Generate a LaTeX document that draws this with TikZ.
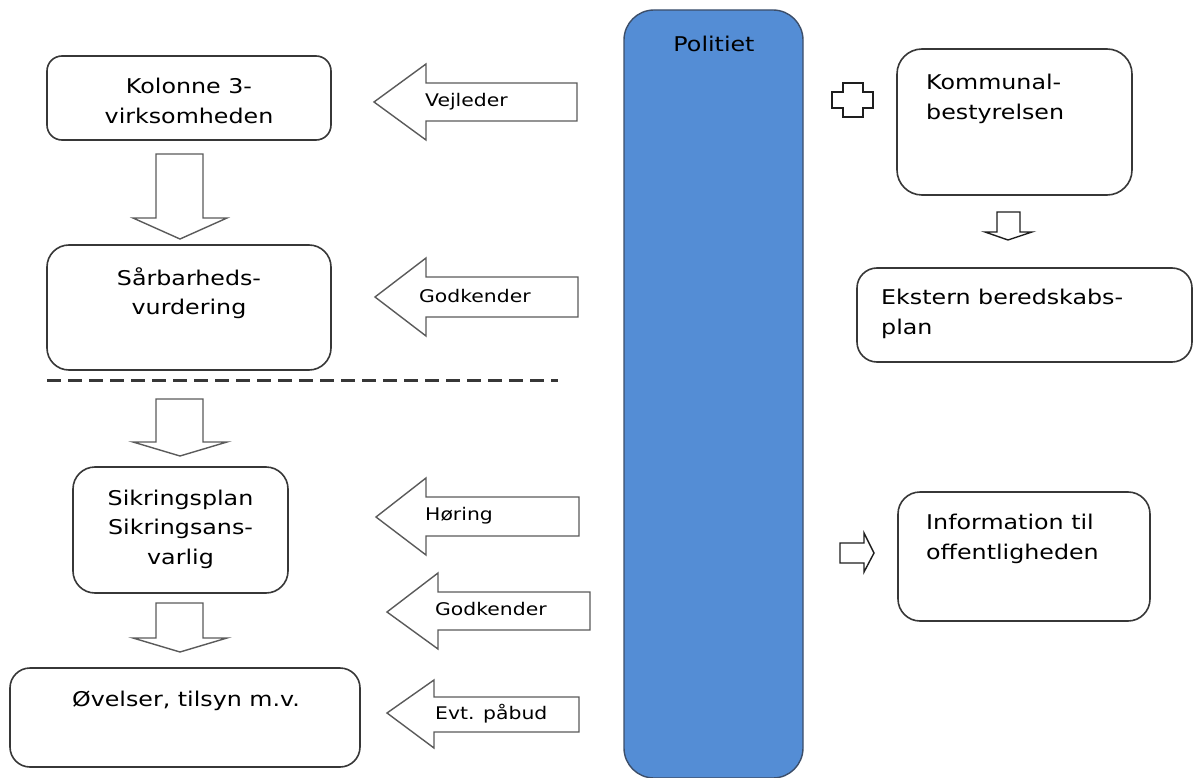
\documentclass[tikz,border=0pt]{standalone}
\usepackage{fontspec}
\setmainfont[FakeStretch=1.17]{DejaVu Sans}
\definecolor{polblue}{RGB}{84,141,213}
\definecolor{poledge}{RGB}{60,78,105}
\definecolor{boxline}{RGB}{55,55,55}
\definecolor{arrline}{RGB}{90,90,90}
\definecolor{smallline}{RGB}{30,30,30}
\begin{document}
\begin{tikzpicture}[x=1pt,y=-1pt,
  box/.style={draw=boxline, line width=1.6pt, fill=white, inner sep=0pt},
  blk/.style={draw=arrline, line width=1.4pt, fill=white, line join=miter},
  sblk/.style={draw=smallline, line width=1.4pt, fill=white, line join=miter},
  txt/.style={font=\fontsize{20.3}{29.5}\selectfont, text=black, align=center, inner sep=0pt},
  ltxt/.style={font=\fontsize{20.3}{29.5}\selectfont, text=black, align=left, inner sep=0pt, anchor=west},
  lbl/.style={font=\fontsize{17.4}{22}\selectfont, text=black, inner sep=0pt, anchor=west, text height=0.72em, text depth=0.22em}]
\useasboundingbox (0,0) rectangle (1194,778);

% Politiet bar
\node[draw=poledge, fill=polblue, line width=1.4pt, rounded corners=30pt, minimum width=179pt, minimum height=768pt, inner sep=0pt] (pol) at (713.5,394) {};
\node[txt] (poltxt) at (714,44) {Politiet};

% left boxes
\node[box, rounded corners=15pt, minimum width=284pt, minimum height=84pt] (kol) at (189,98) {};
\node[txt] (koltxt) at (189,101) {Kolonne 3-\\virksomheden};

\node[box, rounded corners=22pt, minimum width=284pt, minimum height=125pt] (sar) at (189,307.5) {};
\node[txt] (sartxt) at (189,293) {Sårbarheds-\\vurdering};

\node[box, rounded corners=22pt, minimum width=215pt, minimum height=126pt] (sik) at (180.5,530) {};
\node[txt] (siktxt) at (180.5,529) {Sikringsplan\\Sikringsans-\\varlig};

\node[box, rounded corners=20pt, minimum width=350pt, minimum height=99pt] (ove) at (185,717.5) {};
\node[txt] (ovetxt) at (186,701) {Øvelser, tilsyn m.v.};

% right boxes
\node[box, rounded corners=25pt, minimum width=235pt, minimum height=146pt] (kom) at (1014.5,122) {};
\node[ltxt] (komtxt) at (926,99) {Kommunal-\\bestyrelsen};

\node[box, rounded corners=20pt, minimum width=335pt, minimum height=94pt] (eks) at (1024.5,315) {};
\node[ltxt] (ekstxt) at (881,314) {Ekstern beredskabs-\\plan};

\node[box, rounded corners=22pt, minimum width=252pt, minimum height=129pt] (inf) at (1024,556.5) {};
\node[ltxt] (inftxt) at (926,539) {Information til\\offentligheden};

% dashed separator
\coordinate (dl) at (47,380);
\coordinate (dr) at (558,380);
\draw[draw=boxline, line width=3pt, dash pattern=on 13.5pt off 7.5pt] (dl) -- (dr);

% down block arrows (left column)
\draw[blk] (156,154) -- (203,154) -- (203,218) -- (227,218) -- (180,239) -- (133,218) -- (156,218) -- cycle;
\draw[blk] (156,399) -- (203,399) -- (203,442) -- (227,442) -- (180,456) -- (133,442) -- (156,442) -- cycle;
\draw[blk] (156,603) -- (203,603) -- (203,638) -- (227,638) -- (180,652) -- (133,638) -- (156,638) -- cycle;

% left-pointing block arrows with labels
\draw[blk] (374,102) -- (426,64) -- (426,83) -- (577,83) -- (577,121) -- (426,121) -- (426,140) -- cycle;
\node[lbl] (l1) at (425,104) {Vejleder};

\draw[blk] (375,297) -- (426,258) -- (426,277) -- (578,277) -- (578,317) -- (426,317) -- (426,336) -- cycle;
\node[lbl] (l2) at (419,300) {Godkender};

\draw[blk] (376,517) -- (426,478) -- (426,497) -- (579,497) -- (579,536) -- (426,536) -- (426,555) -- cycle;
\node[lbl] (l3) at (425,518) {Høring};

\draw[blk] (387,612) -- (438,573) -- (438,592) -- (590,592) -- (590,630) -- (438,630) -- (438,649) -- cycle;
\node[lbl] (l4) at (435,613) {Godkender};

\draw[blk] (387,713) -- (434,680) -- (434,697) -- (579,697) -- (579,732) -- (434,732) -- (434,748) -- cycle;
\node[lbl] (l5) at (435,717) {Evt. påbud};

% small shapes on the right
\draw[sblk] (843,83) -- (863,83) -- (863,92) -- (873,92) -- (873,108) -- (863,108) -- (863,117) -- (843,117) -- (843,108) -- (832,108) -- (832,92) -- (843,92) -- cycle;
\draw[sblk] (997,212) -- (1020,212) -- (1020,232) -- (1032,232) -- (1008,240) -- (985,232) -- (997,232) -- cycle;
\draw[sblk] (840,543) -- (864,543) -- (864,533) -- (874,553) -- (864,572) -- (864,563) -- (840,563) -- cycle;
\end{tikzpicture}
\end{document}
